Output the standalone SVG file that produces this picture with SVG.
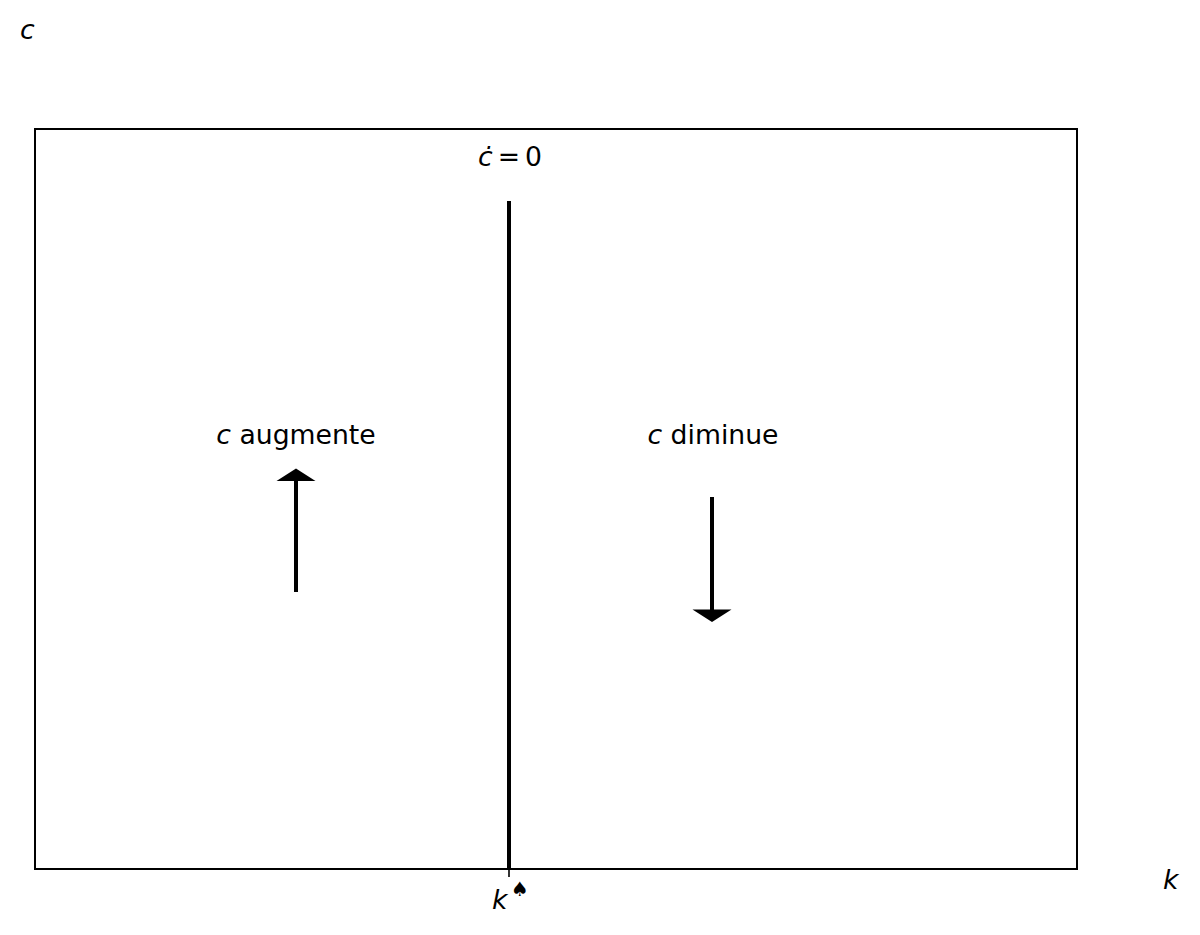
<svg xmlns="http://www.w3.org/2000/svg" width="1200" height="935" viewBox="0 0 1200 935">
<style>
text{font-family:"DejaVu Sans",sans-serif;font-size:26.67px;fill:#000}
.i{font-style:italic}
.ln{stroke:#000;fill:none}
</style>
<rect width="1200" height="935" fill="#fff"/>
<g id="axes">
<rect x="35" y="129" width="1042" height="740" class="ln" stroke-width="2"/>
<line x1="509" y1="869" x2="509" y2="877" class="ln" stroke-width="1.6"/>
<text x="20" y="39" class="i">c</text>
<text x="1163" y="889" class="i">k</text>
<text x="492" y="909" class="i">k</text>
<text x="511" y="896" style="font-size:20px">♠</text>
</g>
<g id="locus">
<line x1="509" y1="201" x2="509" y2="869" class="ln" stroke-width="4"/>
<text x="478" y="166"><tspan class="i">ċ</tspan><tspan dx="5">=</tspan><tspan dx="5">0</tspan></text>
</g>
<g id="augmente">
<text x="296" y="444" text-anchor="middle"><tspan class="i">c</tspan> augmente</text>
</g>
<g id="diminue">
<text x="713" y="444" text-anchor="middle"><tspan class="i">c</tspan> diminue</text>
</g>
<g id="connectors">
<line x1="296" y1="592" x2="296" y2="480" class="ln" stroke-width="4"/>
<polygon points="276.5,481 296,468.5 315.5,481"/>
<line x1="712" y1="497" x2="712" y2="611" class="ln" stroke-width="4"/>
<polygon points="692.5,609.5 712,622 731.5,609.5"/>
</g>
</svg>
